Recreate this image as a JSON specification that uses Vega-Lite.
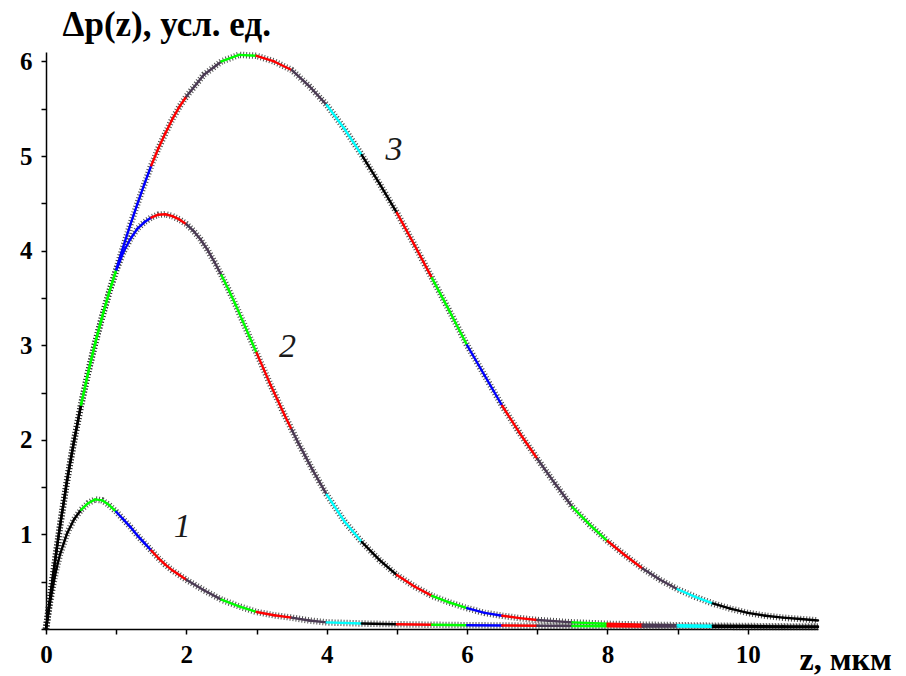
{
  "$schema": "https://vega.github.io/schema/vega-lite/v6.json",
  "width": 772,
  "height": 577,
  "autosize": {"type": "none"},
  "padding": {"left": 46, "top": 52, "right": 88, "bottom": 47},
  "background": "white",
  "config": {"view": {"stroke": null}, "font": "Liberation Serif"},
  "datasets": {
    "curves": [
      {"c":1,"z":0,"p":0},{"c":1,"z":0.05,"p":0.25},{"c":1,"z":0.1,"p":0.46},{"c":1,"z":0.15,"p":0.64},{"c":1,"z":0.2,"p":0.79},{"c":1,"z":0.3,"p":1.01},{"c":1,"z":0.4,"p":1.16},{"c":1,"z":0.5,"p":1.26},{"c":1,"z":0.6,"p":1.33},{"c":1,"z":0.7,"p":1.37},{"c":1,"z":0.8,"p":1.36},{"c":1,"z":0.9,"p":1.31},{"c":1,"z":1.0,"p":1.24},{"c":1,"z":1.1,"p":1.16},{"c":1,"z":1.2,"p":1.08},{"c":1,"z":1.3,"p":0.99},{"c":1,"z":1.4,"p":0.91},{"c":1,"z":1.5,"p":0.83},{"c":1,"z":1.6,"p":0.75},{"c":1,"z":1.7,"p":0.68},{"c":1,"z":1.8,"p":0.62},{"c":1,"z":1.9,"p":0.57},{"c":1,"z":2.0,"p":0.52},{"c":1,"z":2.25,"p":0.41},{"c":1,"z":2.5,"p":0.31},{"c":1,"z":2.75,"p":0.24},{"c":1,"z":3.0,"p":0.18},{"c":1,"z":3.25,"p":0.145},{"c":1,"z":3.5,"p":0.12},{"c":1,"z":3.75,"p":0.09},{"c":1,"z":4.0,"p":0.07},{"c":1,"z":4.5,"p":0.058},{"c":1,"z":5.0,"p":0.05},{"c":1,"z":5.5,"p":0.045},{"c":1,"z":6.0,"p":0.04},{"c":1,"z":6.5,"p":0.037},{"c":1,"z":7.0,"p":0.034},{"c":1,"z":7.5,"p":0.031},{"c":1,"z":8.0,"p":0.029},{"c":1,"z":8.5,"p":0.027},{"c":1,"z":9.0,"p":0.025},{"c":1,"z":9.5,"p":0.023},{"c":1,"z":10.0,"p":0.022},{"c":1,"z":10.5,"p":0.021},{"c":1,"z":11.0,"p":0.02},
      {"c":2,"z":0,"p":0},{"c":2,"z":0.05,"p":0.28},{"c":2,"z":0.1,"p":0.56},{"c":2,"z":0.15,"p":0.83},{"c":2,"z":0.2,"p":1.09},{"c":2,"z":0.3,"p":1.57},{"c":2,"z":0.4,"p":1.99},{"c":2,"z":0.5,"p":2.37},{"c":2,"z":0.6,"p":2.71},{"c":2,"z":0.7,"p":3.02},{"c":2,"z":0.8,"p":3.3},{"c":2,"z":0.9,"p":3.56},{"c":2,"z":1.0,"p":3.79},{"c":2,"z":1.1,"p":3.98},{"c":2,"z":1.2,"p":4.12},{"c":2,"z":1.3,"p":4.23},{"c":2,"z":1.4,"p":4.3},{"c":2,"z":1.5,"p":4.35},{"c":2,"z":1.6,"p":4.38},{"c":2,"z":1.7,"p":4.385},{"c":2,"z":1.8,"p":4.365},{"c":2,"z":1.9,"p":4.33},{"c":2,"z":2.0,"p":4.28},{"c":2,"z":2.1,"p":4.21},{"c":2,"z":2.2,"p":4.12},{"c":2,"z":2.3,"p":4.01},{"c":2,"z":2.4,"p":3.88},{"c":2,"z":2.5,"p":3.74},{"c":2,"z":2.6,"p":3.59},{"c":2,"z":2.7,"p":3.43},{"c":2,"z":2.8,"p":3.26},{"c":2,"z":2.9,"p":3.09},{"c":2,"z":3.0,"p":2.92},{"c":2,"z":3.1,"p":2.75},{"c":2,"z":3.2,"p":2.58},{"c":2,"z":3.3,"p":2.42},{"c":2,"z":3.4,"p":2.26},{"c":2,"z":3.5,"p":2.11},{"c":2,"z":3.6,"p":1.96},{"c":2,"z":3.7,"p":1.82},{"c":2,"z":3.8,"p":1.68},{"c":2,"z":3.9,"p":1.55},{"c":2,"z":4.0,"p":1.42},{"c":2,"z":4.25,"p":1.14},{"c":2,"z":4.5,"p":0.92},{"c":2,"z":4.75,"p":0.73},{"c":2,"z":5.0,"p":0.57},{"c":2,"z":5.25,"p":0.45},{"c":2,"z":5.5,"p":0.35},{"c":2,"z":5.75,"p":0.28},{"c":2,"z":6.0,"p":0.22},{"c":2,"z":6.25,"p":0.17},{"c":2,"z":6.5,"p":0.14},{"c":2,"z":6.75,"p":0.115},{"c":2,"z":7.0,"p":0.095},{"c":2,"z":7.5,"p":0.07},{"c":2,"z":8.0,"p":0.055},{"c":2,"z":8.5,"p":0.046},{"c":2,"z":9.0,"p":0.04},{"c":2,"z":9.5,"p":0.035},{"c":2,"z":10.0,"p":0.031},{"c":2,"z":10.5,"p":0.028},{"c":2,"z":11.0,"p":0.026},
      {"c":3,"z":0,"p":0},{"c":3,"z":0.05,"p":0.28},{"c":3,"z":0.1,"p":0.56},{"c":3,"z":0.15,"p":0.83},{"c":3,"z":0.2,"p":1.09},{"c":3,"z":0.3,"p":1.57},{"c":3,"z":0.4,"p":1.99},{"c":3,"z":0.5,"p":2.37},{"c":3,"z":0.6,"p":2.71},{"c":3,"z":0.7,"p":3.02},{"c":3,"z":0.8,"p":3.3},{"c":3,"z":0.9,"p":3.56},{"c":3,"z":1.0,"p":3.8},{"c":3,"z":1.1,"p":4.04},{"c":3,"z":1.2,"p":4.27},{"c":3,"z":1.3,"p":4.49},{"c":3,"z":1.4,"p":4.7},{"c":3,"z":1.5,"p":4.9},{"c":3,"z":1.6,"p":5.08},{"c":3,"z":1.7,"p":5.24},{"c":3,"z":1.8,"p":5.39},{"c":3,"z":1.9,"p":5.52},{"c":3,"z":2.0,"p":5.63},{"c":3,"z":2.25,"p":5.86},{"c":3,"z":2.5,"p":6.0},{"c":3,"z":2.75,"p":6.07},{"c":3,"z":3.0,"p":6.06},{"c":3,"z":3.25,"p":6.0},{"c":3,"z":3.5,"p":5.91},{"c":3,"z":3.75,"p":5.74},{"c":3,"z":4.0,"p":5.54},{"c":3,"z":4.25,"p":5.29},{"c":3,"z":4.5,"p":5.01},{"c":3,"z":4.75,"p":4.71},{"c":3,"z":5.0,"p":4.4},{"c":3,"z":5.25,"p":4.06},{"c":3,"z":5.5,"p":3.71},{"c":3,"z":5.75,"p":3.36},{"c":3,"z":6.0,"p":3.0},{"c":3,"z":6.25,"p":2.68},{"c":3,"z":6.5,"p":2.36},{"c":3,"z":6.75,"p":2.07},{"c":3,"z":7.0,"p":1.8},{"c":3,"z":7.25,"p":1.54},{"c":3,"z":7.5,"p":1.29},{"c":3,"z":7.75,"p":1.1},{"c":3,"z":8.0,"p":0.93},{"c":3,"z":8.25,"p":0.78},{"c":3,"z":8.5,"p":0.64},{"c":3,"z":8.75,"p":0.52},{"c":3,"z":9.0,"p":0.42},{"c":3,"z":9.25,"p":0.34},{"c":3,"z":9.5,"p":0.27},{"c":3,"z":9.75,"p":0.215},{"c":3,"z":10.0,"p":0.17},{"c":3,"z":10.25,"p":0.14},{"c":3,"z":10.5,"p":0.12},{"c":3,"z":10.75,"p":0.105},{"c":3,"z":11.0,"p":0.09}
    ],
    "labels": [
      {"t":"1","z":1.94,"p":0.97},
      {"t":"2","z":3.44,"p":2.88},
      {"t":"3","z":4.96,"p":4.96}
    ]
  },
  "encoding": {
    "x": {
      "field": "z", "type": "quantitative",
      "scale": {"domain": [0, 11], "nice": false, "zero": false},
      "axis": {
        "title": "z, мкм",
        "values": [0,1,2,3,4,5,6,7,8,9,10],
        "labelExpr": "datum.value % 2 == 0 ? format(datum.value, 'd') : ''",
        "grid": false, "labelFlush": false, "labelOverlap": false,
        "domainColor": "black", "domainWidth": 1.5,
        "tickColor": "black", "tickSize": 5, "tickWidth": 1.5,
        "labelFont": "Liberation Serif", "labelFontWeight": "bold", "labelFontSize": 25, "labelColor": "black", "labelPadding": 8,
        "titleFont": "Liberation Serif", "titleFontWeight": "bold", "titleFontSize": 32, "titleColor": "black",
        "titleX": 753, "titleY": 40, "titleAlign": "left", "titleBaseline": "alphabetic", "titleAnchor": "start"
      }
    },
    "y": {
      "field": "p", "type": "quantitative",
      "scale": {"domain": [0, 6.1], "nice": false, "zero": false},
      "axis": {
        "title": "Δp(z), усл. ед.",
        "values": [0,0.5,1,1.5,2,2.5,3,3.5,4,4.5,5,5.5,6],
        "labelExpr": "datum.value > 0 && datum.value % 1 == 0 ? format(datum.value, 'd') : ''",
        "grid": false, "labelFlush": false, "labelOverlap": false,
        "domainColor": "black", "domainWidth": 1.5,
        "tickColor": "black", "tickSize": 5, "tickWidth": 1.5,
        "labelFont": "Liberation Serif", "labelFontWeight": "bold", "labelFontSize": 25, "labelColor": "black", "labelPadding": 9,
        "titleFont": "Liberation Serif", "titleFontWeight": "bold", "titleFontSize": 35, "titleColor": "black",
        "titleAngle": 0, "titleX": 16, "titleY": -17, "titleAlign": "left", "titleBaseline": "alphabetic", "titleAnchor": "start"
      }
    }
  },
  "layer": [
    {
      "data": {"name": "curves"},
      "mark": {"type": "line", "stroke": "#222222", "strokeWidth": 6.5, "strokeDash": [1, 2], "opacity": 0.8},
      "encoding": {"detail": {"field": "c", "type": "nominal"}}
    },
    {
      "data": {"name": "curves"},
      "transform": [
        {"window": [{"op": "lead", "field": "z", "as": "z2"}, {"op": "lead", "field": "p", "as": "p2"}], "groupby": ["c"], "sort": [{"field": "z", "order": "ascending"}]},
        {"filter": "datum.z2 != null"},
        {"calculate": "['#000000','#00ff00','#0000ff','#ff0000','#4b3a54','#00ff00','#ff0000','#4b3a54','#00ffff','#000000','#ff0000','#00ff00','#0000ff','#ff0000','#4b3a54','#00ff00','#ff0000','#4b3a54','#00ffff','#000000','#000000','#000000','#000000'][floor(datum.z * 2 + 0.000001)]", "as": "col"}
      ],
      "mark": {"type": "rule", "strokeWidth": 2.4, "strokeCap": "round"},
      "encoding": {
        "x2": {"field": "z2"},
        "y2": {"field": "p2"},
        "color": {"field": "col", "type": "nominal", "scale": null}
      }
    },
    {
      "data": {"name": "labels"},
      "mark": {"type": "text", "font": "Liberation Serif", "fontStyle": "italic", "fontSize": 34, "align": "center", "baseline": "alphabetic", "color": "#1a1a1a"},
      "encoding": {"text": {"field": "t", "type": "nominal"}}
    }
  ]
}
